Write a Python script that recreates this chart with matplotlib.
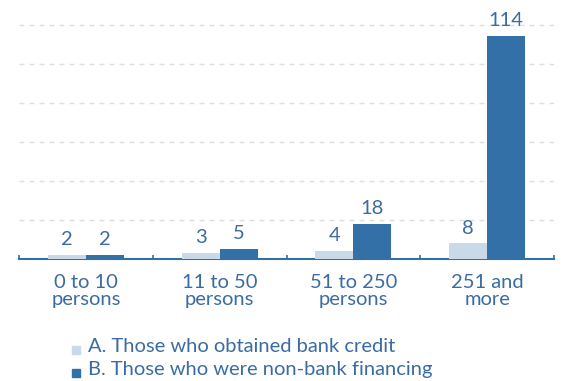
import numpy as np
from matplotlib import pyplot as plt

categories = ["0 to 10\npersons", "11 to 50\npersons", "51 to 250\npersons", "251 and\nmore"]
bank_credit = [2, 3, 4, 8]
non_bank = [2, 5, 18, 114]
series_labels = ["A. Those who obtained bank credit", "B. Those who were non-bank financing"]

light = "#c9d9e8"
dark = "#3470a8"
text_blue = "#3a6ca3"

plt.rcParams["font.family"] = ["Lato", "DejaVu Sans"]

fig = plt.figure(figsize=(5.66, 3.81), dpi=100)
ax = fig.add_axes([19 / 566, 1 - 259 / 381, (554 - 19) / 566, (259 - 5) / 381])

x = np.arange(len(categories))
w = 0.284
b1 = ax.bar(x - w / 2, bank_credit, w, color=light, zorder=3)
b2 = ax.bar(x + w / 2, non_bank, w, color=dark, zorder=3)

for bars, vals in ((b1, bank_credit), (b2, non_bank)):
    for rect, v in zip(bars, vals):
        ax.text(rect.get_x() + rect.get_width() / 2, v + 3.5, str(v),
                ha="center", va="bottom", fontsize=14.5, color=text_blue)

ax.set_xlim(-0.5, len(categories) - 0.5)
ax.set_ylim(0, 130)
ax.set_yticks(np.arange(20, 121, 20))
ax.yaxis.grid(True, color="#dedede", linestyle=(0, (3.6, 3.6)), linewidth=1, zorder=0)
ax.tick_params(axis="y", left=False, labelleft=False)

ax.set_xticks(x)
ax.set_xticklabels(categories, fontsize=14.5, color=text_blue, linespacing=0.95)
ax.tick_params(axis="x", which="major", length=0, pad=11)
ax.set_xticks(np.arange(-0.5, len(categories), 1), minor=True)
ax.tick_params(axis="x", which="minor", length=3, width=1.2, color=dark, direction="in")

for s in ("top", "right", "left"):
    ax.spines[s].set_visible(False)
ax.spines["bottom"].set_color(dark)
ax.spines["bottom"].set_linewidth(1.5)

# legend rows drawn by hand so the markers sit near the baseline
for i, (lab, col) in enumerate(zip(series_labels, [light, dark])):
    y = 1 - (347 + i * 23) / 381
    fig.text(88 / 566, y, lab, fontsize=14.5, color=text_blue, va="center", ha="left")
    fig.patches.append(plt.Rectangle((72 / 566, y - 7 / 381), 8 / 566, 8 / 381,
                                     transform=fig.transFigure, color=col, figure=fig))

fig.savefig("out.png", dpi=100)
